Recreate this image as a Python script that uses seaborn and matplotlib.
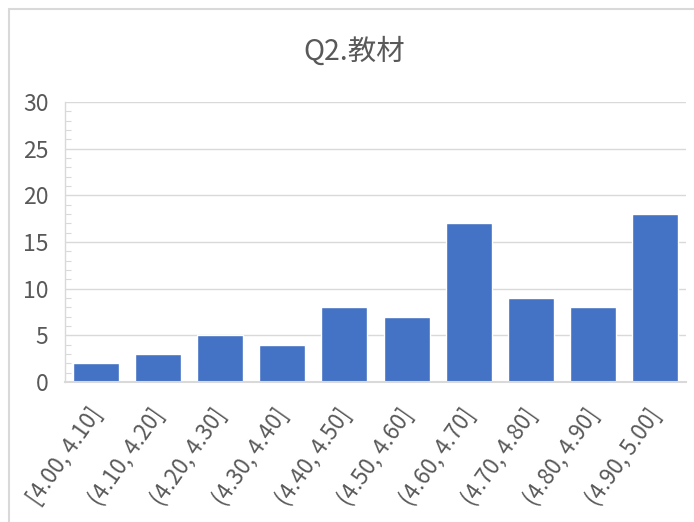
import matplotlib
matplotlib.use("Agg")
import matplotlib.pyplot as plt
from matplotlib.patches import Rectangle
from matplotlib.ticker import MultipleLocator
from matplotlib.transforms import ScaledTranslation
import seaborn as sns
import pandas as pd

# Score bins and how many responses fall in each
bins = ["[4.00, 4.10]", "(4.10, 4.20]", "(4.20, 4.30]", "(4.30, 4.40]", "(4.40, 4.50]",
        "(4.50, 4.60]", "(4.60, 4.70]", "(4.70, 4.80]", "(4.80, 4.90]", "(4.90, 5.00]"]
counts = [2, 3, 5, 4, 8, 7, 17, 9, 8, 18]
title = "Q2.教材"

sns.set_style("white")
plt.rcParams["font.family"] = ["Noto Sans CJK SC", "DejaVu Sans"]

TEXT = "#595959"
LINE = "#d9d9d9"
BAR = "#4472C4"

df = pd.DataFrame({"bin": bins, "count": counts})

fig = plt.figure(figsize=(6.94, 5.22), dpi=100)
ax = fig.add_axes([65 / 694, 1 - 382 / 522, (686 - 65) / 694, (382 - 102) / 522])

sns.barplot(data=df, x="bin", y="count", color=BAR, saturation=1, width=0.74, ax=ax)

ax.set_ylim(0, 30)
ax.set_xlim(-0.5, len(bins) - 0.5)
ax.yaxis.set_major_locator(MultipleLocator(5))
ax.yaxis.set_minor_locator(MultipleLocator(1))
ax.set_axisbelow(True)
ax.yaxis.grid(True, which="major", color=LINE, linewidth=1.0)
ax.set_xlabel("")
ax.set_ylabel("")

for side in ("top", "right"):
    ax.spines[side].set_visible(False)
ax.spines["left"].set_color(LINE)
ax.spines["left"].set_linewidth(1.0)
ax.spines["bottom"].set_color(LINE)
ax.spines["bottom"].set_linewidth(1.5)

ax.tick_params(axis="y", which="major", length=0, pad=12, labelsize=16.5, labelcolor=TEXT)
ax.tick_params(axis="y", which="minor", direction="in", length=4, width=0.8, color=LINE, left=True)
ax.tick_params(axis="x", length=0, pad=6, labelsize=16, labelcolor=TEXT)
shift = ScaledTranslation(1 / 100, -20 / 100, fig.dpi_scale_trans)
for lab in ax.get_xticklabels():
    lab.set_rotation(55)
    lab.set_ha("right")
    lab.set_va("center")
    lab.set_rotation_mode("anchor")
    lab.set_transform(lab.get_transform() + shift)

fig.text(0.51, 1 - 52 / 522, title, ha="center", va="center", fontsize=20.5, color=TEXT)

# Light chart-area frame
fig.add_artist(Rectangle((9 / 694, -0.1), 1.0, 1 - 9 / 522 + 0.1, transform=fig.transFigure,
                         fill=False, edgecolor=LINE, linewidth=1.5))

fig.savefig("out.png", dpi=100)
